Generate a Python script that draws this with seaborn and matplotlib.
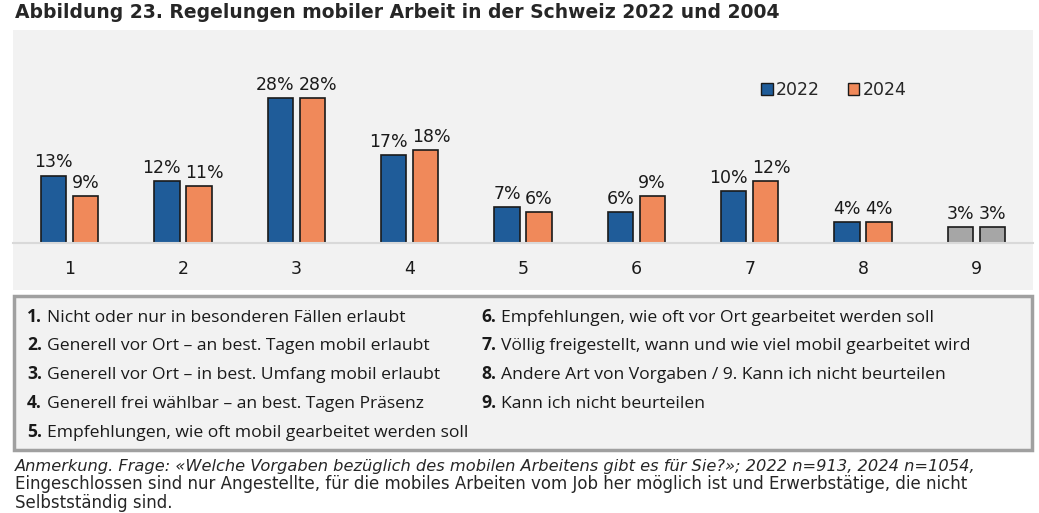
import pandas as pd
import matplotlib
matplotlib.use("Agg")
import matplotlib.pyplot as plt
import seaborn as sns
from matplotlib.patches import Rectangle, Patch

BLUE = "#1f5c99"
ORANGE = "#f0895a"
GREY = "#a6a6a6"
BG = "#f2f2f2"
INK = "#1a1a1a"

categories = ["1", "2", "3", "4", "5", "6", "7", "8", "9"]
years = ["2022", "2024"]
values_2022 = [13, 12, 28, 17, 7, 6, 10, 4, 3]
values_2024 = [9, 11, 28, 18, 6, 9, 12, 4, 3]

legend_left = [
    ("1.", "Nicht oder nur in besonderen Fällen erlaubt"),
    ("2.", "Generell vor Ort – an best. Tagen mobil erlaubt"),
    ("3.", "Generell vor Ort – in best. Umfang mobil erlaubt"),
    ("4.", "Generell frei wählbar – an best. Tagen Präsenz"),
    ("5.", "Empfehlungen, wie oft mobil gearbeitet werden soll"),
]
legend_right = [
    ("6.", "Empfehlungen, wie oft vor Ort gearbeitet werden soll"),
    ("7.", "Völlig freigestellt, wann und wie viel mobil gearbeitet wird"),
    ("8.", "Andere Art von Vorgaben / 9. Kann ich nicht beurteilen"),
    ("9.", "Kann ich nicht beurteilen"),
]

title = "Abbildung 23. Regelungen mobiler Arbeit in der Schweiz 2022 und 2004"
note = [
    "Anmerkung. Frage: «Welche Vorgaben bezüglich des mobilen Arbeitens gibt es für Sie?»; 2022 n=913, 2024 n=1054,",
    "Eingeschlossen sind nur Angestellte, für die mobiles Arbeiten vom Job her möglich ist und Erwerbstätige, die nicht",
    "Selbstständig sind.",
]

df = pd.DataFrame({
    "cat": categories * 2,
    "year": [years[0]] * len(categories) + [years[1]] * len(categories),
    "val": values_2022 + values_2024,
})

sns.set_style("white")
plt.rcParams["font.family"] = ["DejaVu Sans"]

W, H = 1039, 513
fig = plt.figure(figsize=(W / 100, H / 100), dpi=100)
fig.patch.set_facecolor("white")


def fx(px):
    return px / W


def fy(py):
    return 1 - py / H


# grey chart background
fig.add_artist(Rectangle((fx(13), fy(290)), fx(1033) - fx(13), fy(30) - fy(290),
                         transform=fig.transFigure, facecolor=BG, edgecolor="none", zorder=0))

ax = fig.add_axes([fx(13), fy(243), fx(1033) - fx(13), fy(30) - fy(243)])
ax.set_facecolor("none")

sns.barplot(data=df, x="cat", y="val", hue="year", palette=[BLUE, ORANGE], saturation=1,
            width=0.56, gap=0.2, edgecolor=INK, linewidth=1.2, ax=ax)

# last category in grey
for cont in ax.containers:
    cont.patches[-1].set_facecolor(GREY)

labels = [ax.bar_label(cont, fmt="%d%%", fontsize=12.5, padding=3, color=INK)
          for cont in ax.containers]

ax.set_xlim(-0.5, 8.5)
ax.set_ylim(0, (243 - 30) / 5.18)
ax.set_xlabel("")
ax.set_ylabel("")
ax.set_yticks([])
for s in ["top", "left", "right"]:
    ax.spines[s].set_visible(False)
ax.spines["bottom"].set_color("#d9d9d9")
ax.spines["bottom"].set_linewidth(1.5)
ax.tick_params(axis="x", length=0, labelsize=12.5, pad=12, colors=INK)

handles = [Patch(facecolor=BLUE, edgecolor=INK, label="2022"),
           Patch(facecolor=ORANGE, edgecolor=INK, label="2024")]
ax.get_legend().remove()
fig.legend(handles=handles, loc="center", bbox_to_anchor=(fx(834), fy(90)), ncol=2,
           frameon=False, fontsize=12.5, handlelength=0.65, handleheight=0.65,
           handletextpad=0.2, columnspacing=1.6)

fig.text(fx(15), fy(13), title, fontsize=13.5, fontweight="bold", va="center", ha="left")

# push apart value labels of a pair that would touch
fig.canvas.draw()
rend = fig.canvas.get_renderer()
for a, b in zip(labels[0], labels[1]):
    ba = a.get_window_extent(rend)
    bb = b.get_window_extent(rend)
    if ba.y0 < bb.y1 and bb.y0 < ba.y1:
        over = ba.x1 + 4 - bb.x0
        if over > 0:
            d = over / 2 * 72 / fig.dpi
            a.xyann = (a.xyann[0] - d, a.xyann[1])
            b.xyann = (b.xyann[0] + d, b.xyann[1])

# description box
fig.add_artist(Rectangle((fx(14), fy(450)), fx(1032) - fx(14), fy(296) - fy(450),
                         transform=fig.transFigure, facecolor=BG, edgecolor="#a0a0a0",
                         linewidth=2.5, zorder=0))

box_font = ["Open Sans", "DejaVu Sans"]
box_size = 12.6
row_base = [322, 350, 379, 408, 437]
for col_x, items in [(27, legend_left), (481, legend_right)]:
    for (num, txt), y in zip(items, row_base):
        fig.text(fx(col_x), fy(y), num, fontsize=box_size, fontweight="bold",
                 family=box_font, va="baseline", color=INK)
        fig.text(fx(col_x + 20), fy(y), txt, fontsize=box_size, family=box_font,
                 va="baseline", color=INK)

fig.text(fx(15), fy(466), note[0], fontsize=11.7, style="italic", va="center")
fig.text(fx(15), fy(484), note[1], fontsize=12, va="center")
fig.text(fx(15), fy(503), note[2], fontsize=12, va="center")

fig.savefig("out.png", dpi=100, facecolor="white")
